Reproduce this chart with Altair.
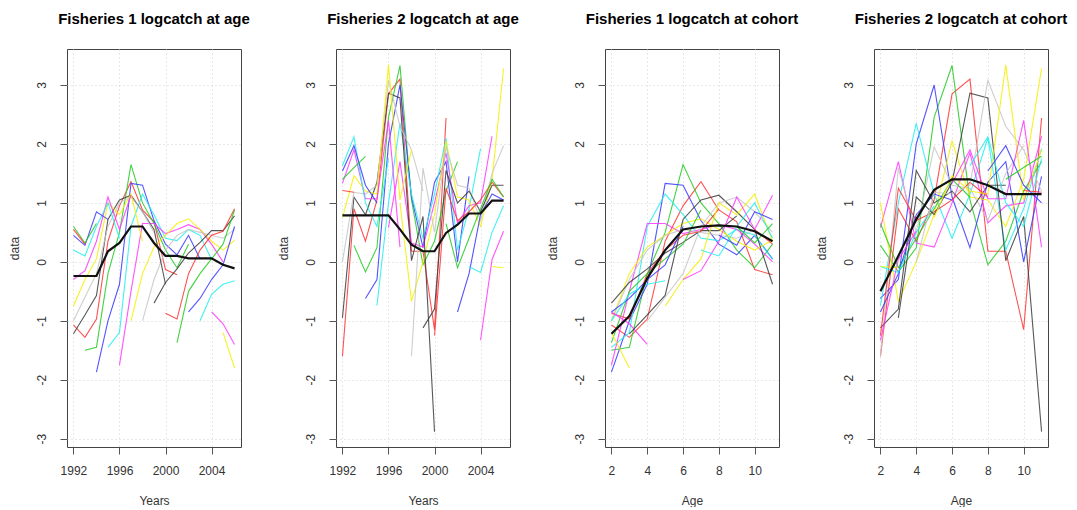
import altair as alt
import pandas as pd

years = list(range(1992, 2007))
ages = list(range(2, 12))
# R default palette order (black, red, green3, blue, cyan, magenta, yellow, gray)
palette = ["#3a3a3a", "#ff3333", "#22c922", "#3636ff", "#22eeee", "#ff36ff", "#f5f000", "#c6c6c6"]

# ---- Fishery 1 log catch, rows = age 2..11, columns = years 1992..2006
f1_age2 = [-1.07, -1.5, -1.87, -1.45, -1.75, -1.0, -1.0, -0.7, -0.87, -1.37, -0.85, -1.0, -0.85, -1.2, None]
f1_age3 = [-1.22, -1.28, -1.45, -1.0, -1.2, -0.5, -0.2, -0.3, -0.35, -0.97, -0.5, -0.62, -0.55, -1.05, -1.8]
f1_age4 = [-1.0, -0.9, -0.97, -0.2, -0.38, 0.6, 0.65, 0.25, 0.2, -0.12, -0.2, -0.2, -0.3, -0.38, -1.4]
f1_age5 = [-0.75, -0.6, -0.57, 0.35, 0.5, 1.33, 1.15, 0.65, 0.45, 0.45, 0.15, 0.2, 0.05, -0.05, -0.32]
f1_age6 = [-0.3, -0.3, -0.2, 0.72, 0.95, 1.65, 1.3, 0.8, 0.48, 0.65, 0.55, 0.33, 0.45, 0.3, 0.6]
f1_age7 = [0.2, -0.15, 0.05, 0.6, 1.05, 1.36, 1.0, 0.7, 0.4, 0.55, 0.73, 0.5, 0.53, 0.52, 0.88]
f1_age8 = [0.45, 0.1, 0.35, 1.0, 1.0, 1.13, 0.88, 0.65, 0.3, 0.36, 0.63, 0.55, 0.45, 0.53, 0.9]
f1_age9 = [0.6, 0.28, 0.6, 1.1, 0.8, 1.1, 0.85, 0.68, 0.2, 0.12, 0.55, 0.55, 0.35, 0.4, 0.78]
f1_age10 = [0.55, 0.32, 0.85, 1.0, 0.55, 1.15, 0.85, 0.55, -0.13, -0.1, 0.45, 0.45, 0.3, 0.2, 0.55]
f1_age11 = [None, 0.3, 0.65, 0.72, 0.4, 1.13, 0.35, 0.5, -0.38, -0.22, 0.3, 0.05, 0.04, 0.0, 0.37]

# ---- Fishery 2 log catch
f2_age2 = [-1.6, 0.28, -0.62, -0.74, 0.58, 1.0, -1.6, -1.12, -1.25, 0.65, -0.85, -0.08, -1.33, -0.08, None]
f2_age3 = [-0.95, 0.9, -0.17, -0.3, 1.0, 1.7, -0.67, 1.59, -0.8, 1.25, -0.1, -0.2, -0.18, 0.04, -0.1]
f2_age4 = [0.0, 1.1, 0.35, 0.24, 2.0, 2.35, 0.32, 0.0, 0.5, 1.55, 0.7, 0.4, 0.8, 0.5, 0.52]
f2_age5 = [0.75, 1.18, 0.8, 1.05, 2.45, 3.0, 1.15, 0.25, 0.8, 1.95, 1.0, 0.85, 0.9, 1.15, 0.95]
f2_age6 = [1.33, 1.46, 1.15, 1.35, 2.85, 3.33, 1.1, 0.4, 1.0, 2.05, 1.3, 1.2, 1.05, 1.4, 1.05]
f2_age7 = [1.63, 1.9, 1.2, 1.3, 2.86, 3.1, 1.05, 0.24, 1.15, 1.85, 1.1, 1.25, 0.85, 1.35, 1.1]
f2_age8 = [1.54, 2.12, 1.07, 1.15, 3.08, 2.78, 0.18, -0.05, 1.35, 2.1, 0.66, 1.05, 0.7, 1.3, 1.1]
f2_age9 = [1.4, 1.97, 1.0, 1.07, 3.34, 2.3, 0.02, 0.18, 0.35, 1.7, 0.2, 0.95, 0.6, 1.5, 1.3]
f2_age10 = [1.21, 1.6, 1.3, 0.6, 2.4, 1.05, 1.9, 0.77, -1.15, 1.2, 0.0, 0.9, 1.0, 1.4, 1.97]
f2_age11 = [None, 1.18, 1.79, 1.0, 1.75, 0.25, 1.9, 1.2, -2.88, 2.44, 1.7, 1.45, 1.92, 2.13, 3.28]

# ---- thick summary lines
f1_trend_year = [-0.24, -0.24, -0.24, 0.18, 0.32, 0.6, 0.6, 0.32, 0.1, 0.1, 0.06, 0.06, 0.06, -0.05, -0.11]
f2_trend_year = [0.79, 0.79, 0.79, 0.79, 0.79, 0.55, 0.29, 0.18, 0.18, 0.49, 0.63, 0.82, 0.82, 1.04, 1.04]
f1_trend_age = [-1.22, -0.92, -0.28, 0.2, 0.55, 0.6, 0.62, 0.6, 0.52, 0.35]
f2_trend_age = [-0.5, 0.1, 0.72, 1.22, 1.4, 1.4, 1.3, 1.15, 1.15, 1.15]

f1 = [f1_age2, f1_age3, f1_age4, f1_age5, f1_age6, f1_age7, f1_age8, f1_age9, f1_age10, f1_age11]
f2 = [f2_age2, f2_age3, f2_age4, f2_age5, f2_age6, f2_age7, f2_age8, f2_age9, f2_age10, f2_age11]

year_ticks = list(range(1992, 2007, 2))
age_ticks = [2, 4, 6, 8, 10]
y_ticks = [-3, -2, -1, 0, 1, 2, 3]
YDOM = [-3.14, 3.61]
FONT = "Liberation Sans"


def build(matrix):
    rows = []
    for i, a in enumerate(ages):
        for j, yr in enumerate(years):
            v = matrix[i][j]
            if v is None:
                continue
            c = yr - a
            rows.append(dict(age=a, year=yr, cohort=c, value=v, col=palette[(c - 1981) % 8]))
    df = pd.DataFrame(rows)
    cnt = df.groupby("cohort")["value"].transform("count")
    return df[cnt >= 2]


def panel(df, xfield, xdom, xvals, lab_expr, title, xtitle, trend_x, trend_y):
    xenc = alt.X(
        f"{xfield}:Q",
        scale=alt.Scale(domain=xdom, nice=False, zero=False),
        axis=alt.Axis(values=xvals, title=xtitle, labelExpr=lab_expr, format="d",
                      labelFlush=False, labelOverlap=False),
    )
    yenc = alt.Y(
        "value:Q",
        scale=alt.Scale(domain=YDOM, nice=False, zero=False),
        axis=alt.Axis(values=y_ticks, title="data", labelAngle=270, labelAlign="center",
                      labelBaseline="bottom", labelFlush=False, labelOverlap=False,
                      labelExpr="datum.value < 0 ? '-' + abs(datum.value) : '' + datum.value",
                      labelPadding=12, titlePadding=14),
    )
    lines = alt.Chart(df).mark_line(strokeWidth=1.1, opacity=0.85, clip=True).encode(
        x=xenc, y=yenc, detail="cohort:N", color=alt.Color("col:N", scale=None)
    )
    tdf = pd.DataFrame({xfield: trend_x, "value": trend_y})
    trend = alt.Chart(tdf).mark_line(strokeWidth=2.2, color="#111111").encode(
        x=f"{xfield}:Q", y="value:Q"
    )
    return alt.layer(lines, trend).properties(
        width=174, height=398,
        title=alt.TitleParams(title, fontSize=15, fontWeight="bold", font=FONT,
                              color="#000000", offset=22, anchor="middle"),
    )


d1 = build(f1)
d2 = build(f2)
year_lab = "datum.value % 4 == 0 ? '' + datum.value : ''"
age_lab = "'' + datum.value"

p1 = panel(d1, "year", [1991.44, 2006.56], year_ticks, year_lab,
           "Fisheries 1 logcatch at age", "Years", years, f1_trend_year)
p2 = panel(d2, "year", [1991.44, 2006.56], year_ticks, year_lab,
           "Fisheries 2 logcatch at age", "Years", years, f2_trend_year)
p3 = panel(d1, "age", [1.64, 11.36], age_ticks, age_lab,
           "Fisheries 1 logcatch at cohort", "Age", ages, f1_trend_age)
p4 = panel(d2, "age", [1.64, 11.36], age_ticks, age_lab,
           "Fisheries 2 logcatch at cohort", "Age", ages, f2_trend_age)

chart = alt.hconcat(p1, p2, p3, p4, spacing=95, bounds="flush").properties(
    padding={"left": 7, "top": 11, "right": 5, "bottom": 0},
    background="#ffffff",
).configure_view(
    stroke="#444444", strokeWidth=1
).configure_axis(
    domain=False, tickColor="#555555", tickSize=7, tickWidth=1,
    labelFont=FONT, labelFontSize=12, labelColor="#333333",
    titleFont=FONT, titleFontSize=12, titleFontWeight="normal", titleColor="#333333",
    grid=True, gridColor="#d2d2d2", gridDash=[1, 3], gridWidth=1,
).configure_axisX(
    labelPadding=11, titlePadding=19
)

chart.save("out.html", embed_options={"renderer": "svg", "actions": False})
